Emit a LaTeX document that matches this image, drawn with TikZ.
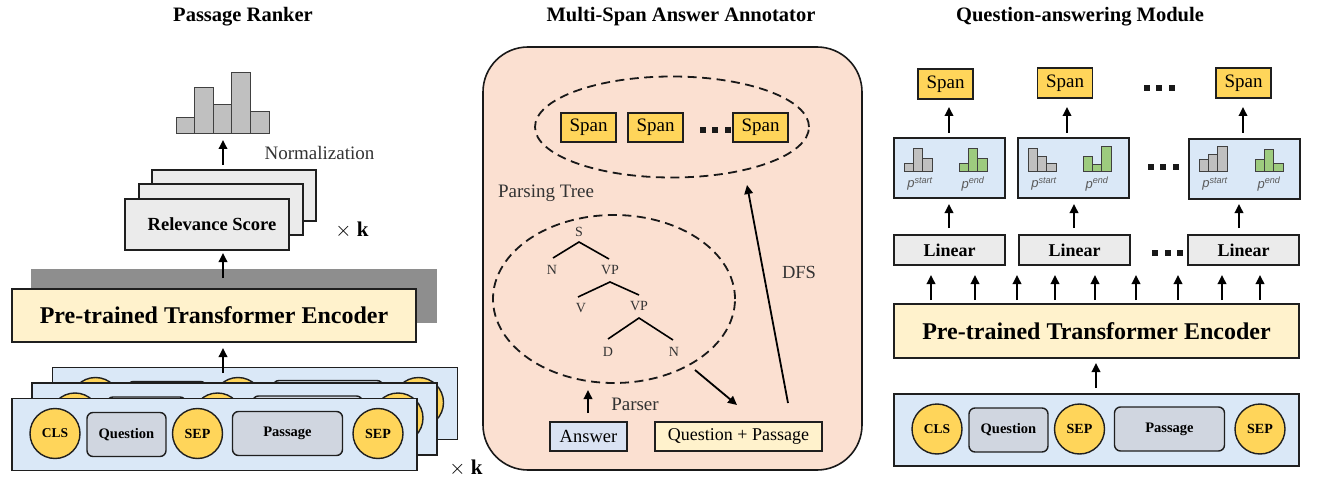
\documentclass[tikz,border=0pt]{standalone}
\usepackage{fontspec}
\setmainfont{Liberation Serif}
\setsansfont{Liberation Sans}
\usetikzlibrary{arrows.meta,shapes.geometric}
\definecolor{lyellow}{HTML}{FFF2CC}
\definecolor{gold}{HTML}{FFD55A}
\definecolor{lblue}{HTML}{DAE8F7}
\definecolor{tokgray}{HTML}{D0D6E0}
\definecolor{lgray}{HTML}{EBEBEB}
\definecolor{peach}{HTML}{FBE0D1}
\definecolor{ansblue}{HTML}{DAE3F3}
\definecolor{bargray}{HTML}{C0C0C0}
\definecolor{bargreen}{HTML}{9DCB7E}
\definecolor{shadowgray}{HTML}{8E8E8E}
\definecolor{txtgray}{HTML}{333333}
\newcommand{\fs}[1]{\fontsize{#1}{#1}\selectfont}
\newcommand{\threedots}{\rule{6pt}{6pt}\hspace{6.5pt}\rule{6pt}{6pt}\hspace{6.5pt}\rule{6pt}{6pt}}
\tikzset{
  bx/.style={draw=black!88, line width=1.4pt, inner sep=0pt, anchor=center},
  arr/.style={-{Triangle[length=9pt,width=8.5pt]}, line width=1.8pt},
  tokc/.style={bx, circle, fill=gold, minimum size=50pt, font=\fs{13.5}\bfseries},
  tokr/.style={bx, rounded corners=6pt, fill=tokgray, minimum height=44pt, font=\fs{14.5}\bfseries},
  tit/.style={font=\fs{20.5}\bfseries},
  lbl/.style={text=txtgray, font=\fs{19}},
  tree/.style={text=txtgray, font=\fs{14}, inner sep=1pt},
  bar/.style={draw=black!75, line width=0.9pt},
  dashell/.style={draw=black!90, ellipse, line width=1.8pt, dash pattern=on 9pt off 5.5pt, inner sep=0pt},
  dots/.style={inner sep=0pt, text=black!90},
  spanbox/.style={bx, fill=gold, minimum width=55pt, font=\fs{19}},
  linbox/.style={bx, fill=lgray, minimum width=111pt, minimum height=30pt, font=\fs{18}\bfseries},
  encbox/.style={bx, fill=lyellow, minimum height=54pt, font=\fs{24}\bfseries},
  plbl/.style={text=black!65, font=\fs{13}\sffamily\itshape, inner sep=0pt}
}
\newcommand{\tokrow}[3]{%
  \node[bx, fill=lblue, minimum width=405pt, minimum height=72pt] (#1) at (#2,#3) {};
  \begin{scope}[shift={(#2,#3)}]
    \node[tokc] (#1c) at (-159.5,-1) {CLS};
    \node[tokr, minimum width=79pt] (#1q) at (-88,0) {Question};
    \node[tokc, font=\fs{14}\bfseries] (#1s) at (-17,-1) {SEP};
    \node[tokr, minimum width=110pt] (#1p) at (73,-1) {Passage};
    \node[tokc, font=\fs{14}\bfseries] (#1e) at (163.5,-1) {SEP};
  \end{scope}}
\newcommand{\mybar}[5]{% x0, width, bottom, top, fill
  \draw[bar, fill=#5] (#1,#3) rectangle ++(#2,#4-#3);}
\newcommand{\hthree}[5]{% x0, t1,t2,t3, fill
  \mybar{#1}{9.33}{171}{#2}{#5}
  \mybar{#1+9.33}{9.33}{171}{#3}{#5}
  \mybar{#1+18.66}{9.33}{171}{#4}{#5}}
\begin{document}
\begin{tikzpicture}[x=1pt,y=-1pt]
\useasboundingbox (0,0) rectangle (1318,492);
\fill[white] (0,0) rectangle (1318,492);

%% ---------------- Passage Ranker ----------------
\node[tit] (t1) at (243,17) {Passage Ranker};

% histogram
\mybar{176}{18.6}{133}{117}{bargray}
\mybar{194.6}{18.6}{133}{87}{bargray}
\mybar{213.2}{18.6}{133}{104}{bargray}
\mybar{231.8}{18.6}{133}{72}{bargray}
\mybar{250.4}{18.6}{133}{111}{bargray}
\coordinate (histb) at (223,140);
\node[lbl] (norm) at (319.5,153) {Normalization};

% relevance stack
\node[bx, fill=lgray, minimum width=164pt, minimum height=51pt] (rb3) at (234,195.5) {};
\node[bx, fill=lgray, minimum width=164pt, minimum height=51pt] (rb2) at (221,209.5) {};
\node[bx, fill=lgray, minimum width=164pt, minimum height=51pt, font=\fs{18.5}\bfseries] (rb1) at (207,224.5) {\hspace*{10pt}Relevance Score};
\node[font=\fs{21}] (xk1) at (352,230) {$\times$ \textbf{k}};
\coordinate (rtop) at (223,165);
\draw[arr] (rtop) -- (histb);

% shadow + encoder
\fill[shadowgray] (31,269) rectangle (437,323);
\node[encbox, minimum width=404pt, minimum height=53pt] (encL) at (214,315.5) {Pre-trained Transformer Encoder};
\coordinate (encLt) at (223,278);
\coordinate (rb1b) at (223,253);
\draw[arr] (encLt) -- (rb1b);

% token stacks
\tokrow{tb}{255}{403.5}
\tokrow{tm}{234.5}{419}
\tokrow{tf}{214.5}{434.5}
\coordinate (tbt) at (223,373);
\coordinate (encLb) at (223,348);
\draw[arr] (tbt) -- (encLb);
\node[font=\fs{21}] (xk2) at (466,468) {$\times$ \textbf{k}};

%% ---------------- Multi-Span Answer Annotator ----------------
\node[tit] (t2) at (681,17) {Multi-Span Answer Annotator};
\node[draw=black!90, line width=1.6pt, rounded corners=45pt, fill=peach, minimum width=379pt, minimum height=423pt, inner sep=0pt] (ann) at (672.5,258.5) {};

\node[dashell, minimum width=274pt, minimum height=101pt] (spanell) at (672,127) {};
\node[spanbox, minimum height=29pt] (sp1) at (588.5,127.5) {Span};
\node[spanbox, minimum height=29pt] (sp2) at (655.5,127.5) {Span};
\node[dots] (spd) at (715,130) {\threedots};
\node[spanbox, minimum height=29pt] (sp3) at (760.5,127.5) {Span};

\node[lbl] (pt) at (546,193) {Parsing Tree};
\node[dashell, minimum width=242pt, minimum height=168pt] (treeell) at (614,299) {};
\node[tree] (nS) at (579,232) {S};
\node[tree] (nN1) at (552,270) {N};
\node[tree] (nVP1) at (610,270) {VP};
\node[tree] (nV) at (581,308) {V};
\node[tree] (nVP2) at (639,306) {VP};
\node[tree] (nD) at (608,352) {D};
\node[tree] (nN2) at (674,352) {N};
\draw[line width=1.6pt] (553,258) -- (579,242) -- (609,259);
\draw[line width=1.6pt] (578,297) -- (610,282) -- (639,295);
\draw[line width=1.6pt] (608,339) -- (639,318) -- (673,340);

\node[bx, fill=ansblue, minimum width=77pt, minimum height=29pt, font=\fs{18.5}] (ans) at (588.5,436.5) {Answer};
\node[bx, fill=lyellow, minimum width=167pt, minimum height=29pt, font=\fs{18}] (qp) at (738.5,436.5) {Question + Passage};
\coordinate (anst) at (588,413);
\coordinate (treeb) at (588,390);
\draw[arr] (anst) -- (treeb);
\node[lbl] (parser) at (635,404) {Parser};
\coordinate (treer) at (695,370);
\coordinate (qpt) at (737,405);
\draw[arr] (treer) -- (qpt);
\coordinate (qptr) at (788,403);
\coordinate (spellb) at (747,185);
\draw[arr] (qptr) -- (spellb);
\node[lbl, font=\fs{18.5}] (dfs) at (799,272) {DFS};

%% ---------------- Question-answering Module ----------------
\node[tit] (t3) at (1080,17) {Question-answering Module};

\node[spanbox, minimum height=30pt] (rs1) at (945.5,84) {Span};
\node[spanbox, minimum height=30pt] (rs2) at (1065,83) {Span};
\node[dots] (rsd) at (1159,88) {\threedots};
\node[spanbox, minimum height=30pt] (rs3) at (1243.5,83) {Span};

\node[bx, fill=lblue, minimum width=111pt, minimum height=60pt] (pb1) at (949.5,168) {};
\node[bx, fill=lblue, minimum width=111pt, minimum height=60pt] (pb2) at (1073.5,168) {};
\node[dots] (pbd) at (1163,167) {\threedots};
\node[bx, fill=lblue, minimum width=111pt, minimum height=60pt] (pb3) at (1244.5,169) {};

\hthree{904}{163}{148}{158}{bargray}
\hthree{959}{163}{148}{158}{bargreen}
\hthree{1028}{148}{156}{163}{bargray}
\hthree{1083}{156}{164}{146}{bargreen}
\hthree{1199}{159}{154}{146}{bargray}
\hthree{1255}{159}{149}{163}{bargreen}
\foreach \xs/\xe [count=\i] in {920/973, 1044/1097, 1215/1269}{
  \node[plbl] (ps\i) at (\xs,184) {p\textsuperscript{start}};
  \node[plbl] (pe\i) at (\xe,184) {p\textsuperscript{end}};
}

\node[linbox] (lin1) at (949.5,250) {Linear};
\node[linbox] (lin2) at (1074.5,250) {Linear};
\node[dots] (lind) at (1167.5,253) {\threedots};
\node[linbox] (lin3) at (1243.5,250) {Linear};

\foreach \x/\n in {949/1, 1067/2, 1243/3}{
  \coordinate (pt\n) at (\x,133);
  \coordinate (st\n) at (\x,107);
  \draw[arr] (pt\n) -- (st\n);
}
\foreach \x/\n in {949/1, 1074/2, 1239/3}{
  \coordinate (lt\n) at (\x,228);
  \coordinate (pbb\n) at (\x,204);
  \draw[arr] (lt\n) -- (pbb\n);
}

\node[encbox, minimum width=405pt] (encR) at (1096.5,331) {Pre-trained Transformer Encoder};
\foreach \x [count=\i] in {931,975,1017,1055,1095,1136,1178,1222,1260}{
  \coordinate (ea\i) at (\x,300);
  \coordinate (eb\i) at (\x,275);
  \draw[arr] (ea\i) -- (eb\i);
}
\tokrow{tr}{1096.5}{430}
\coordinate (trt) at (1096,388);
\coordinate (encRb) at (1096,363);
\draw[arr] (trt) -- (encRb);
\end{tikzpicture}
\end{document}
